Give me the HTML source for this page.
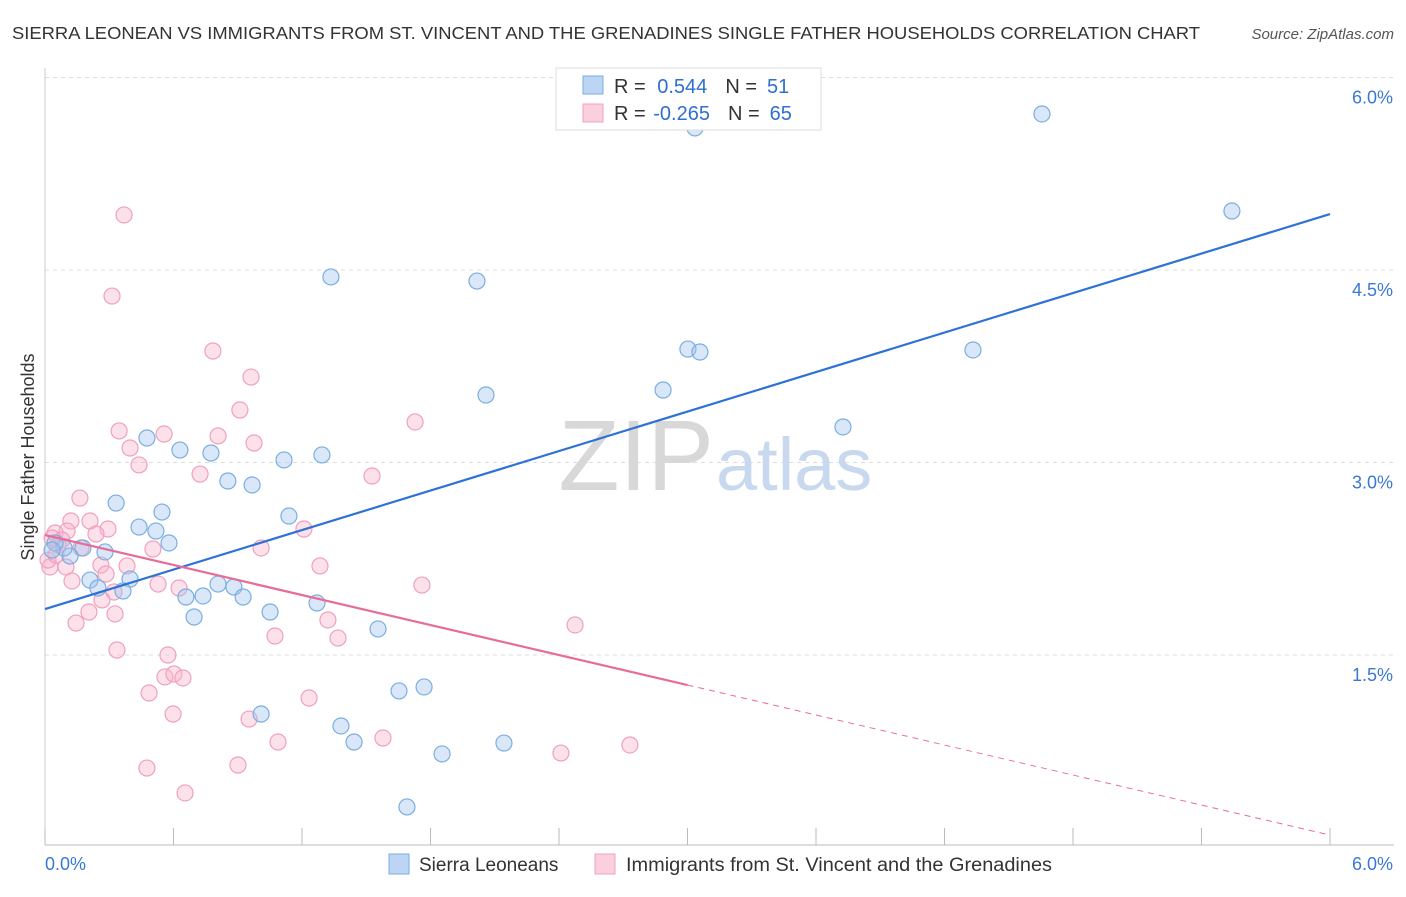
<!DOCTYPE html>
<html><head><meta charset="utf-8"><style>
body{margin:0;background:#fff;font-family:"Liberation Sans",sans-serif;}
svg text{font-family:"Liberation Sans",sans-serif;}
</style></head><body>
<svg id="chart" width="1406" height="892" xmlns="http://www.w3.org/2000/svg">
<text x="12" y="39" font-size="17.5" fill="#333" textLength="1188" lengthAdjust="spacingAndGlyphs">SIERRA LEONEAN VS IMMIGRANTS FROM ST. VINCENT AND THE GRENADINES SINGLE FATHER HOUSEHOLDS CORRELATION CHART</text>
<text x="1394" y="39" font-size="15" fill="#555" font-style="italic" text-anchor="end">Source: ZipAtlas.com</text>
<g id="grid"></g>
<text x="714" y="490" font-size="100" fill="#d8d8d8" text-anchor="end" font-family="Liberation Serif">ZIP</text>
<text x="716" y="490" font-size="74" fill="#c8d8ee">atlas</text>
<g id="pts"></g>
<g id="lines"></g>
<text transform="translate(34,457) rotate(-90)" font-size="18" fill="#333" text-anchor="middle">Single Father Households</text>
<g>
<rect x="556" y="68" width="265" height="62" fill="#fff" stroke="#ddd"/>
<rect x="583" y="76" width="20" height="18" fill="#bcd5f5" stroke="#7aaee0"/>
<rect x="583" y="104" width="20" height="18" fill="#fbd0de" stroke="#f0a0bc"/>
<text x="614" y="93" font-size="20" fill="#333">R = <tspan fill="#2f6fd0" dx="6">0.544</tspan><tspan dx="18" fill="#333">N =</tspan><tspan dx="10" fill="#2f6fd0">51</tspan></text>
<text x="614" y="120" font-size="20" fill="#333">R = <tspan fill="#2f6fd0" dx="2">-0.265</tspan><tspan dx="18" fill="#333">N =</tspan><tspan dx="10" fill="#2f6fd0">65</tspan></text>
</g>
<g>
<rect x="389" y="854" width="20" height="20" fill="#bcd5f5" stroke="#7aaee0"/>
<text x="419" y="871" font-size="19" fill="#333">Sierra Leoneans</text>
<rect x="595" y="854" width="20" height="20" fill="#fbd0de" stroke="#f0a0bc"/>
<text x="626" y="871" font-size="19" fill="#333" textLength="426" lengthAdjust="spacingAndGlyphs">Immigrants from St. Vincent and the Grenadines</text>
</g>
</svg>
<script>
const yTicks=[1.5,3.0,4.5,6.0];
const blueX=[3.035,4.655,5.542,1.335,2.017,3.002,3.058,4.333,2.059,2.886,3.726,0.476,0.630,0.775,1.116,1.293,0.854,0.967,0.332,1.139,0.546,0.439,0.518,0.579,0.280,0.117,0.089,0.047,0.033,0.177,0.210,0.247,0.397,0.364,0.658,0.738,0.808,0.882,0.925,0.696,1.051,1.270,1.555,1.009,1.653,1.770,1.382,1.443,1.854,2.143,1.690];
const blueY=[5.607,5.716,4.960,4.446,4.414,3.884,3.861,3.877,3.526,3.565,3.277,3.191,3.097,3.074,3.020,3.059,2.856,2.825,2.684,2.583,2.614,2.497,2.466,2.373,2.303,2.271,2.334,2.373,2.318,2.334,2.084,2.022,2.092,1.999,1.952,1.960,2.053,2.030,1.952,1.796,1.835,1.905,1.703,1.040,1.220,1.251,0.947,0.822,0.729,0.814,0.316];
const pinkX=[0.369,0.313,0.784,0.962,0.910,0.346,0.556,0.808,0.397,0.976,0.439,0.724,1.527,1.728,0.163,0.121,0.210,0.103,0.047,0.079,0.294,0.238,0.061,0.168,0.504,1.009,1.209,0.023,0.098,0.126,0.261,0.285,0.383,0.528,0.626,0.322,0.266,0.205,0.327,0.145,1.760,1.284,1.321,1.368,1.074,2.475,0.336,0.574,0.560,0.602,0.644,0.486,0.598,1.233,0.953,1.088,1.578,2.409,2.731,0.901,0.476,0.654,0.033,0.014,0.051];
const pinkY=[4.929,4.297,3.869,3.666,3.409,3.246,3.222,3.207,3.113,3.152,2.981,2.910,2.895,3.316,2.723,2.544,2.544,2.466,2.451,2.396,2.482,2.443,2.357,2.334,2.326,2.334,2.482,2.186,2.186,2.077,2.201,2.131,2.194,2.053,2.022,1.991,1.929,1.835,1.820,1.749,2.045,2.194,1.773,1.632,1.648,1.734,1.539,1.500,1.329,1.352,1.321,1.204,1.040,1.165,1.001,0.822,0.853,0.736,0.799,0.643,0.619,0.425,2.412,2.240,2.279];
const blueLine=[1.858,4.936];
const pinkLine=[2.435,0.097];
const pinkSolidEnd=3.0;
const NS="http://www.w3.org/2000/svg";
const X=v=>45+v*1285/6, Y=v=>847.5-v*128.33;
function mk(t,a,p){const e=document.createElementNS(NS,t);for(const k in a)e.setAttribute(k,a[k]);p.appendChild(e);return e;}
const grid=document.getElementById('grid');
yTicks.forEach(t=>{
 const l=mk('line',{x1:45,x2:1394,y1:Y(t),y2:Y(t),stroke:'#ddd','stroke-dasharray':'4,4'},grid);
 
 
 const tx=mk('text',{x:1393,y:Y(t)+26,'font-size':18,fill:'#3a78d4','text-anchor':'end'},grid);
 tx.textContent=t.toFixed(1)+'%';
 
 
});
const ax=mk('line',{x1:45,x2:1394,y1:845,y2:845,stroke:'#bbb'},grid);


const ay=mk('line',{x1:45,x2:45,y1:68,y2:845,stroke:'#ccc'},grid);


for(let i=0;i<=10;i++){const t=mk('line',{x1:X(i*0.6),x2:X(i*0.6),y1:828,y2:845,stroke:'#bbb'},grid);
 
 }
[['0.0%',45,'start'],['6.0%',1393,'end']].forEach(a=>{const t=mk('text',{x:a[1],y:870,'font-size':18,fill:'#3a78d4','text-anchor':a[2]},grid);t.textContent=a[0];
 
 });
const pts=document.getElementById('pts');
pinkX.forEach((x,i)=>{const c=mk('circle',{cx:X(x),cy:Y(pinkY[i]),r:8,fill:'rgba(248,180,204,0.4)',stroke:'#f0a0bc','stroke-width':1.2},pts);
 
 });
blueX.forEach((x,i)=>{const c=mk('circle',{cx:X(x),cy:Y(blueY[i]),r:8,fill:'rgba(160,196,240,0.4)',stroke:'#7aaee0','stroke-width':1.2},pts);
 
 });
const lines=document.getElementById('lines');
const bl=mk('line',{x1:X(0),y1:Y(blueLine[0]),x2:X(6),y2:Y(blueLine[1]),stroke:'#2f72d6','stroke-width':2.2},lines);


const py=x=>pinkLine[0]+(pinkLine[1]-pinkLine[0])*x/6;
const pl=mk('line',{x1:X(0),y1:Y(pinkLine[0]),x2:X(pinkSolidEnd),y2:Y(py(pinkSolidEnd)),stroke:'#e86c98','stroke-width':2.2},lines);


const pd=mk('line',{x1:X(pinkSolidEnd),y1:Y(py(pinkSolidEnd)),x2:X(6),y2:Y(pinkLine[1]),stroke:'#e86c98','stroke-width':1,'stroke-dasharray':'6,5'},lines);


</script>
</body></html>
